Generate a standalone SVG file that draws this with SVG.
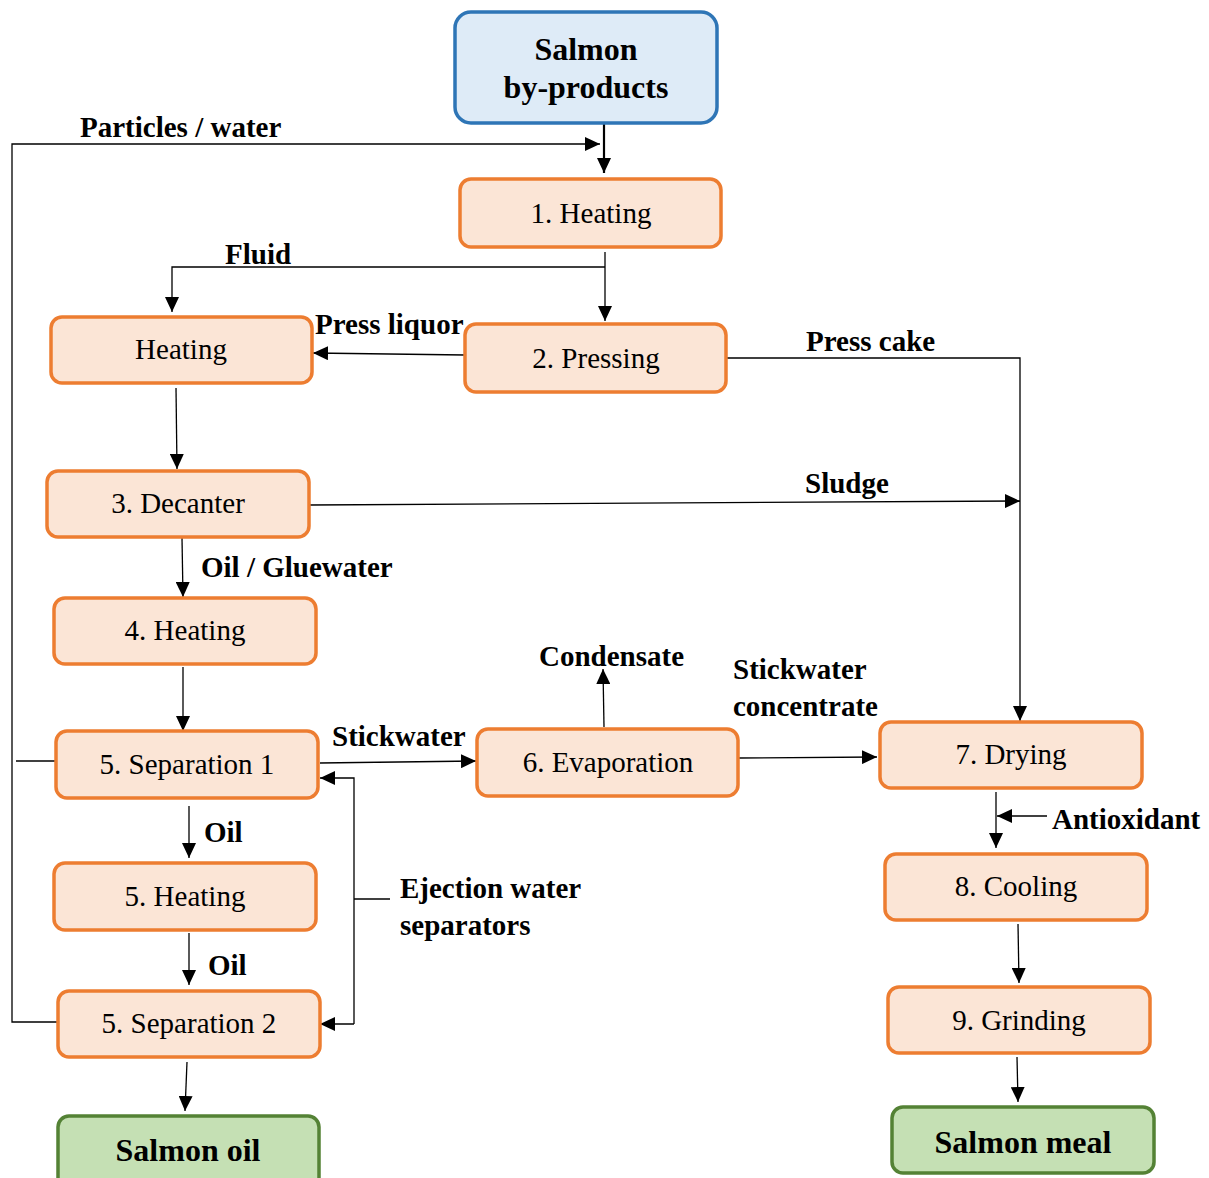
<svg xmlns="http://www.w3.org/2000/svg" width="1209" height="1178" viewBox="0 0 1209 1178">
<style>
.n{fill:#FBE5D6;stroke:#ED7D31;stroke-width:3.5}
.s{fill:#DEEBF7;stroke:#2E75B6;stroke-width:3.5}
.g{fill:#C5E0B4;stroke:#548235;stroke-width:3.5}
.t{font-family:"Liberation Serif",serif;font-size:29px;fill:#000;text-anchor:middle}
.h{font-weight:bold;font-size:32px}
.b{font-family:"Liberation Serif",serif;font-size:29px;font-weight:bold;fill:#000}
.c line,.c polyline{stroke:#000;stroke-width:1.3;fill:none}
</style>
<defs>
<marker id="a" markerUnits="userSpaceOnUse" markerWidth="16" markerHeight="14" refX="15" refY="7" orient="auto"><path d="M0,0L15,7L0,14Z" fill="#000"/></marker>
</defs>
<rect width="1209" height="1178" fill="#fff"/>
<g class="c">
<line x1="604" y1="124" x2="604" y2="173" style="stroke-width:2.2" marker-end="url(#a)"/>
<polyline points="58,1022 12,1022 12,144 600,144" marker-end="url(#a)"/>
<line x1="16" y1="761" x2="56" y2="761"/>
<line x1="605" y1="252" x2="605" y2="321" marker-end="url(#a)"/>
<polyline points="605,267 172,267 172,312" marker-end="url(#a)"/>
<line x1="465" y1="355" x2="313" y2="353" marker-end="url(#a)"/>
<line x1="176" y1="388" x2="177" y2="469" marker-end="url(#a)"/>
<line x1="310" y1="505" x2="1020" y2="501" marker-end="url(#a)"/>
<polyline points="726,358 1020,358 1020,721" marker-end="url(#a)"/>
<line x1="182" y1="538" x2="183" y2="597" marker-end="url(#a)"/>
<line x1="183" y1="667" x2="183" y2="731" marker-end="url(#a)"/>
<line x1="320" y1="763" x2="476" y2="761" marker-end="url(#a)"/>
<line x1="604" y1="727" x2="603" y2="669" marker-end="url(#a)"/>
<line x1="739" y1="758" x2="877" y2="757" marker-end="url(#a)"/>
<line x1="189" y1="806" x2="189" y2="858" marker-end="url(#a)"/>
<line x1="189" y1="933" x2="189" y2="985" marker-end="url(#a)"/>
<line x1="390" y1="899" x2="354" y2="899"/>
<polyline points="354,1024 354,778 320,778" marker-end="url(#a)"/>
<polyline points="354,1024 320,1024" marker-end="url(#a)"/>
<line x1="187" y1="1062" x2="185" y2="1111" marker-end="url(#a)"/>
<line x1="996" y1="792" x2="996" y2="848" marker-end="url(#a)"/>
<line x1="1047" y1="816" x2="997" y2="816" marker-end="url(#a)"/>
<line x1="1018" y1="924" x2="1019" y2="983" marker-end="url(#a)"/>
<line x1="1017" y1="1057" x2="1018" y2="1102" marker-end="url(#a)"/>
</g>
<g id="n0"><rect class="s" x="455" y="12" width="262" height="111" rx="16"/><text class="t h" x="586" y="60">Salmon</text><text class="t h" x="586" y="98">by-products</text></g>
<g id="n1"><rect class="n" x="460" y="179" width="261" height="68" rx="11"/><text class="t" x="591" y="223">1. Heating</text></g>
<g id="nh"><rect class="n" x="51" y="317" width="261" height="66" rx="11"/><text class="t" x="181" y="359">Heating</text></g>
<g id="n2"><rect class="n" x="465" y="324" width="261" height="68" rx="11"/><text class="t" x="596" y="368">2. Pressing</text></g>
<g id="n3"><rect class="n" x="47" y="471" width="262" height="66" rx="11"/><text class="t" x="178" y="513">3. Decanter</text></g>
<g id="n4"><rect class="n" x="54" y="598" width="262" height="66" rx="11"/><text class="t" x="185" y="640">4. Heating</text></g>
<g id="n5a"><rect class="n" x="56" y="731" width="262" height="67" rx="11"/><text class="t" x="187" y="774">5. Separation 1</text></g>
<g id="n6"><rect class="n" x="477" y="729" width="261" height="67" rx="11"/><text class="t" x="608" y="772">6. Evaporation</text></g>
<g id="n7"><rect class="n" x="880" y="722" width="262" height="66" rx="11"/><text class="t" x="1011" y="764">7. Drying</text></g>
<g id="n5h"><rect class="n" x="54" y="863" width="262" height="67" rx="11"/><text class="t" x="185" y="906">5. Heating</text></g>
<g id="n8"><rect class="n" x="885" y="854" width="262" height="66" rx="11"/><text class="t" x="1016" y="896">8. Cooling</text></g>
<g id="n5b"><rect class="n" x="58" y="991" width="262" height="66" rx="11"/><text class="t" x="189" y="1033">5. Separation 2</text></g>
<g id="n9"><rect class="n" x="888" y="987" width="262" height="66" rx="11"/><text class="t" x="1019" y="1030">9. Grinding</text></g>
<g id="no"><rect class="g" x="58" y="1116" width="261" height="80" rx="11"/><text class="t h" x="188" y="1161">Salmon oil</text></g>
<g id="nm"><rect class="g" x="892" y="1107" width="262" height="66" rx="11"/><text class="t h" x="1023" y="1153">Salmon meal</text></g>
<g id="labels">
<text class="b" x="80" y="137">Particles / water</text>
<text class="b" x="225" y="264">Fluid</text>
<text class="b" x="315" y="334">Press liquor</text>
<text class="b" x="806" y="351">Press cake</text>
<text class="b" x="805" y="493">Sludge</text>
<text class="b" x="201" y="577">Oil / Gluewater</text>
<text class="b" x="539" y="666">Condensate</text>
<text class="b" x="733" y="679">Stickwater</text>
<text class="b" x="733" y="716">concentrate</text>
<text class="b" x="332" y="746">Stickwater</text>
<text class="b" x="204" y="842">Oil</text>
<text class="b" x="400" y="898">Ejection water</text>
<text class="b" x="400" y="935">separators</text>
<text class="b" x="208" y="975">Oil</text>
<text class="b" x="1052" y="829">Antioxidant</text>
</g>
</svg>
